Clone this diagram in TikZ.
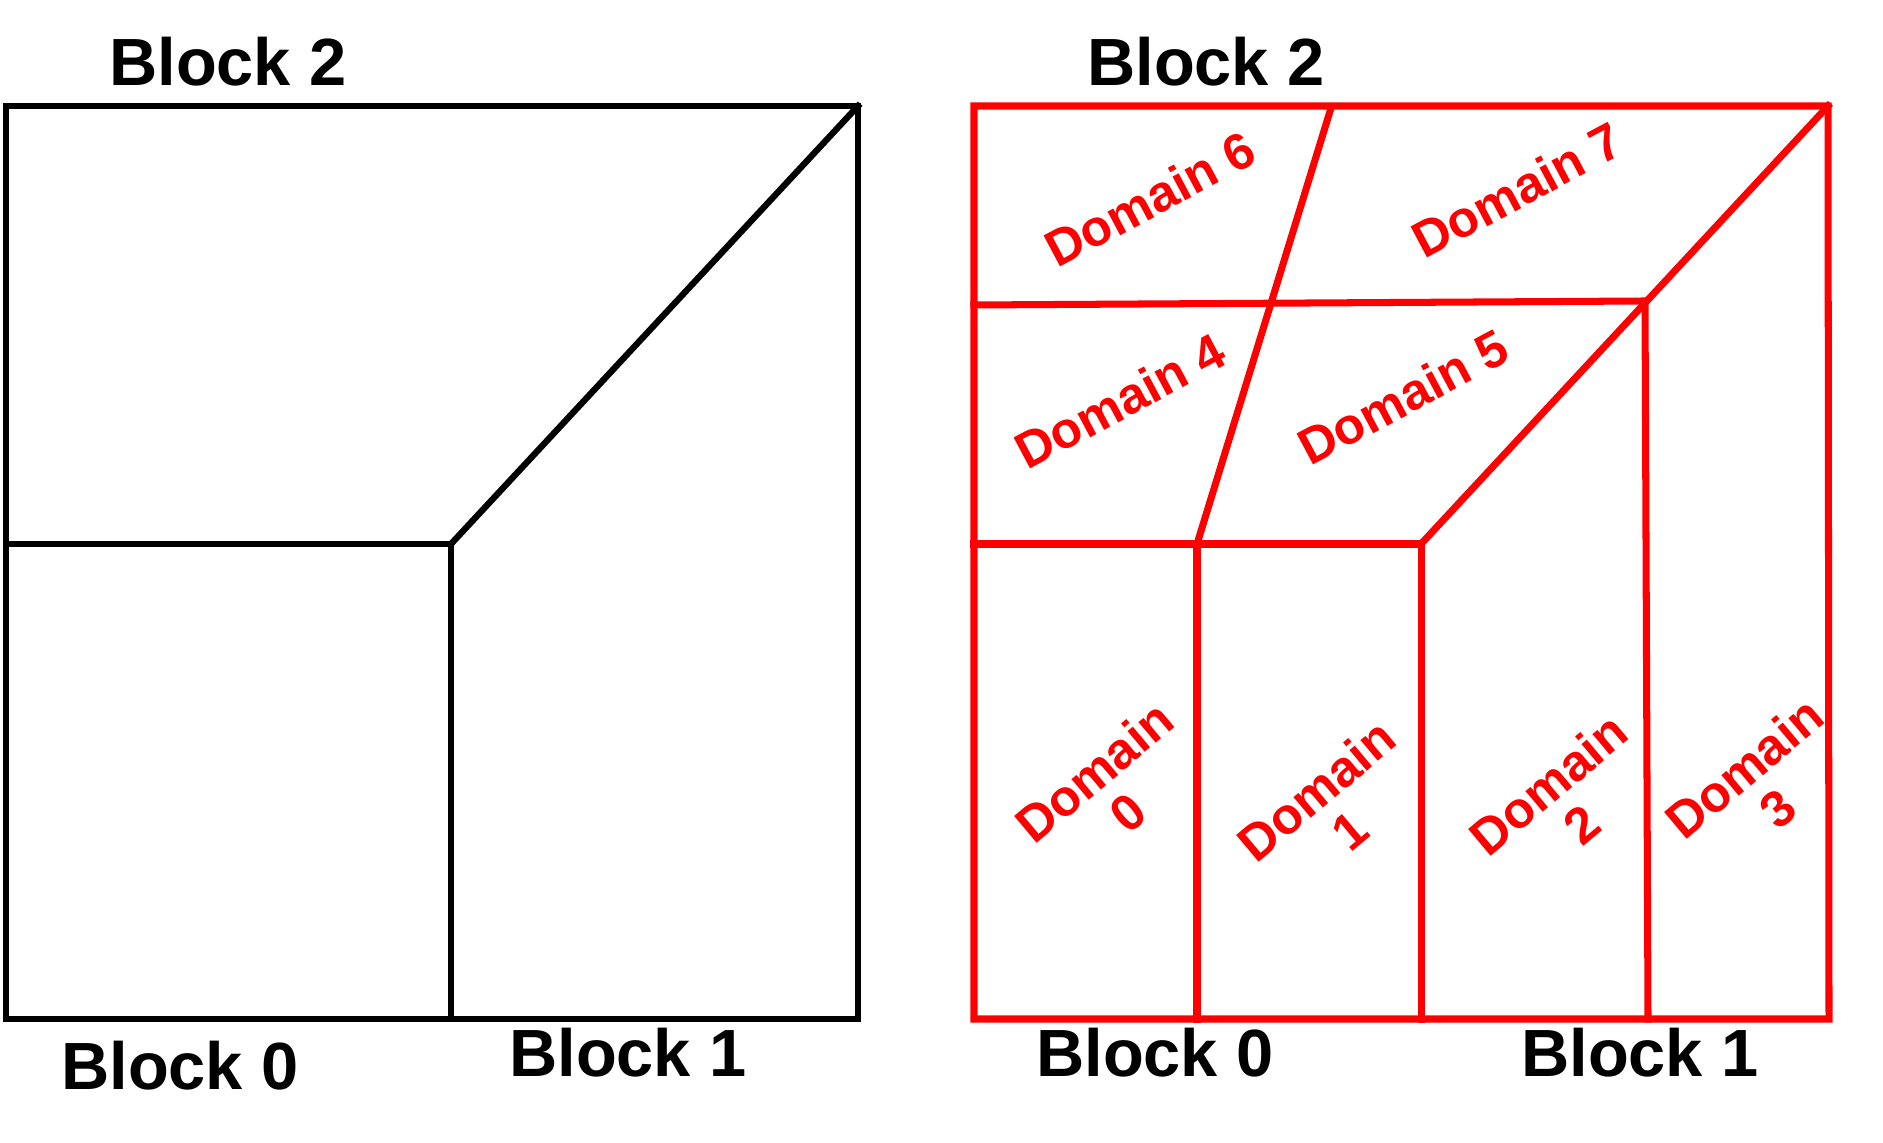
\documentclass[tikz,border=0pt]{standalone}
\usepackage{fontspec}
\setmainfont{Liberation Sans}
\usepackage{tikz}
\usetikzlibrary{calc}

\begin{document}
\begin{tikzpicture}[
    x=0.1mm, y=-0.1mm,
    blockline/.style={draw=black, line width=1.8pt, line cap=rect},
    domline/.style={draw=red, line width=2pt, line cap=rect},
    blocklabel/.style={font=\fontsize{19}{21}\selectfont\bfseries, text=black, inner sep=0pt},
    domlabel/.style={font=\fontsize{14.5}{15}\selectfont\bfseries, text=red, align=center, inner sep=0pt}
]
\useasboundingbox (0,0) rectangle (1883,1143);

% left: blocks
\coordinate (lnw) at (6,106);
\coordinate (lne) at (858,106);
\coordinate (lsw) at (6,1019);
\coordinate (lse) at (858,1019);
\coordinate (lw) at (6,544);
\coordinate (lc) at (451,544);
\coordinate (ls) at (451,1019);

\draw[blockline] (lnw) -- (lne) -- (lse) -- (lsw) -- cycle;
\draw[blockline] (lw) -- (lc) -- (ls);
\draw[blockline] (lc) -- (lne);

\node[blocklabel] (lb2) at (228,62) {Block 2};
\node[blocklabel] (lb0) at (180,1066) {Block 0};
\node[blocklabel] (lb1) at (628,1053) {Block 1};

% right: domains
\coordinate (rnw) at (974,106);
\coordinate (rne) at (1828,106);
\coordinate (rsw) at (974,1019);
\coordinate (rse) at (1829,1019);
\coordinate (rw) at (974,544);
\coordinate (rm) at (1197,544);
\coordinate (rc) at (1421,544);
\coordinate (rms) at (1197,1019);
\coordinate (rcs) at (1421,1019);
\coordinate (rmn) at (1331,108);
\coordinate (rww) at (974,305);
\coordinate (rk) at (1645,301);
\coordinate (rks) at (1648,1019);

\draw[domline] (rnw) -- (rne) -- (rse) -- (rsw) -- cycle;
\draw[domline] (rw) -- (rc) -- (rcs);
\draw[domline] (rm) -- (rms);
\draw[domline] (rm) -- (rmn);
\draw[domline] (rww) -- (rk) -- (rks);
\draw[domline] (rc) -- (rne);

\node[blocklabel] (rb2) at (1206,62) {Block 2};
\node[blocklabel] (rb0) at (1155,1053) {Block 0};
\node[blocklabel] (rb1) at (1640,1053) {Block 1};

\node[domlabel, rotate=28] (d6) at (1150,199) {Domain 6};
\node[domlabel, rotate=28] (d7) at (1517,190) {Domain 7};
\node[domlabel, rotate=28] (d4) at (1120,401) {Domain 4};
\node[domlabel, rotate=28] (d5) at (1403,397) {Domain 5};
\node[domlabel, rotate=40] (d0) at (1111,792) {Domain\\0};
\node[domlabel, rotate=40] (d1) at (1333,810) {Domain\\1};
\node[domlabel, rotate=40] (d2) at (1565,804) {Domain\\2};
\node[domlabel, rotate=40] (d3) at (1761,788) {Domain\\3};
\end{tikzpicture}
\end{document}
